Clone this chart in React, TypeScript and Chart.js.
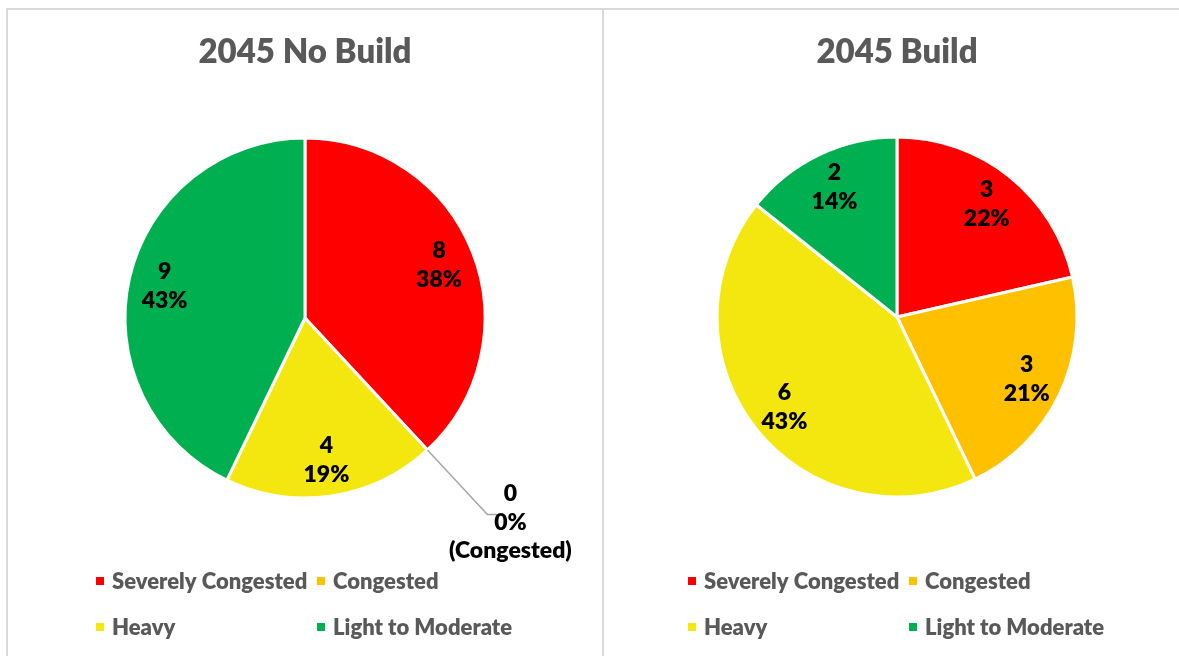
import React, { useEffect, useRef } from "react";
import { Chart, registerables } from "chart.js";

Chart.register(...registerables);

// ---- data ----
const categories = ["Severely Congested", "Congested", "Heavy", "Light to Moderate"];
const sliceColors = ["#FF0000", "#FFC000", "#F4E70F", "#00B050"];

const noBuildTitle = "2045 No Build";
const noBuildValues = [8, 0, 4, 9];
const noBuildPercents = ["38%", "0%", "19%", "43%"];

const buildTitle = "2045 Build";
const buildValues = [3, 3, 6, 2];
const buildPercents = ["22%", "21%", "43%", "14%"];

// ---- styles ----
const TEXT_GRAY = "#595959";
const BORDER_GRAY = "#D9D9D9";
const FONT = "Lato, 'Open Sans', sans-serif";
const WEIGHT = "800";

type PanelCfg = {
  title: string;
  values: number[];
  percents: string[];
  width: number;
  height: number;
  cx: number;
  cy: number;
};

function makeDecorPlugin(cfg: PanelCfg) {
  return {
    id: "decor",
    afterDatasetsDraw(chart: any) {
      const ctx = chart.ctx as CanvasRenderingContext2D;
      const meta = chart.getDatasetMeta(0);
      const arcs = meta.data as any[];
      if (!arcs.length) return;
      const cx = arcs[0].x;
      const cy = arcs[0].y;
      const R = arcs[0].outerRadius;
      ctx.save();

      // title
      ctx.fillStyle = TEXT_GRAY;
      ctx.font = `${WEIGHT} 33px ${FONT}`;
      ctx.textAlign = "center";
      ctx.textBaseline = "alphabetic";
      ctx.fillText(cfg.title, cx, 53);

      // data labels
      ctx.fillStyle = "#000000";
      ctx.font = `${WEIGHT} 23px ${FONT}`;
      ctx.textBaseline = "middle";
      arcs.forEach((arc: any, i: number) => {
        const { startAngle, endAngle } = arc.getProps(["startAngle", "endAngle"], true);
        const v = cfg.values[i];
        if (v === 0) {
          const a = startAngle;
          const ex = cx + Math.cos(a) * R;
          const ey = cy + Math.sin(a) * R;
          const kx = cx + Math.cos(a) * R * 1.49;
          const ky = cy + Math.sin(a) * R * 1.49;
          ctx.strokeStyle = "#A6A6A6";
          ctx.lineWidth = 1.5;
          ctx.beginPath();
          ctx.moveTo(ex, ey);
          ctx.lineTo(kx, ky);
          ctx.lineTo(kx + 10, ky);
          ctx.stroke();
          const tx = kx + 23;
          const ty = ky + 8;
          ctx.fillText(String(v), tx, ty - 29);
          ctx.fillText(cfg.percents[i], tx, ty);
          ctx.fillText(`(${categories[i]})`, tx, ty + 28);
        } else {
          const mid = (startAngle + endAngle) / 2;
          const r = R * 0.8;
          const x = cx + Math.cos(mid) * r;
          const y = cy + Math.sin(mid) * r;
          ctx.fillText(String(v), x, y - 14.5);
          ctx.fillText(cfg.percents[i], x, y + 14.5);
        }
      });

      // legend (2 x 2 grid)
      ctx.font = `${WEIGHT} 22px ${FONT}`;
      ctx.textAlign = "left";
      ctx.textBaseline = "middle";
      const colW = 221;
      const startX = cx - 209;
      const rowsY = [chart.height - 75, chart.height - 29];
      categories.forEach((name, i) => {
        const col = i % 2;
        const row = Math.floor(i / 2);
        const x = startX + col * colW;
        const y = rowsY[row];
        ctx.fillStyle = sliceColors[i];
        ctx.fillRect(x, y - 4, 8, 8);
        ctx.fillStyle = TEXT_GRAY;
        ctx.fillText(name, x + 16, y + 1);
      });

      ctx.restore();
    },
  };
}

function PiePanel({ cfg, left }: { cfg: PanelCfg; left: number }) {
  const ref = useRef<HTMLCanvasElement | null>(null);
  useEffect(() => {
    if (!ref.current) return;
    const size = 363;
    const padLeft = cfg.cx - size / 2;
    const padTop = cfg.cy - size / 2;
    const chart = new Chart(ref.current, {
      type: "pie",
      data: {
        labels: categories,
        datasets: [
          {
            data: cfg.values,
            backgroundColor: sliceColors,
            borderColor: "#FFFFFF",
            borderWidth: 3,
            hoverOffset: 0,
            offset: 0,
          },
        ],
      },
      options: {
        responsive: false,
        animation: false,
        events: [],
        devicePixelRatio: 1,
        layout: {
          padding: {
            left: padLeft,
            right: cfg.width - padLeft - size,
            top: padTop,
            bottom: cfg.height - padTop - size,
          },
        },
        plugins: {
          legend: { display: false },
          title: { display: false },
          tooltip: { enabled: false },
        },
      },
      plugins: [makeDecorPlugin(cfg)],
    });
    return () => chart.destroy();
  }, [cfg]);
  return (
    <canvas
      ref={ref}
      width={cfg.width}
      height={cfg.height}
      style={{
        position: "absolute",
        left,
        top: 10,
        width: cfg.width,
        height: cfg.height,
      }}
    />
  );
}

const leftCfg: PanelCfg = {
  title: noBuildTitle,
  values: noBuildValues,
  percents: noBuildPercents,
  width: 595,
  height: 646,
  cx: 298,
  cy: 308,
};

const rightCfg: PanelCfg = {
  title: buildTitle,
  values: buildValues,
  percents: buildPercents,
  width: 574,
  height: 646,
  cx: 292,
  cy: 307,
};

export default function App() {
  useEffect(() => {
    document.body.style.margin = "0";
  }, []);
  return (
    <div
      style={{
        position: "absolute",
        left: 0,
        top: 0,
        width: 1179,
        height: 656,
        overflow: "hidden",
        background: "#FFFFFF",
      }}
    >
      <div style={{ position: "absolute", left: 6, top: 8, width: 1173, height: 2, background: BORDER_GRAY }} />
      <div style={{ position: "absolute", left: 6, top: 8, width: 2, height: 648, background: BORDER_GRAY }} />
      <div style={{ position: "absolute", left: 602, top: 8, width: 2, height: 648, background: BORDER_GRAY }} />
      <PiePanel cfg={leftCfg} left={7} />
      <PiePanel cfg={rightCfg} left={605} />
    </div>
  );
}
